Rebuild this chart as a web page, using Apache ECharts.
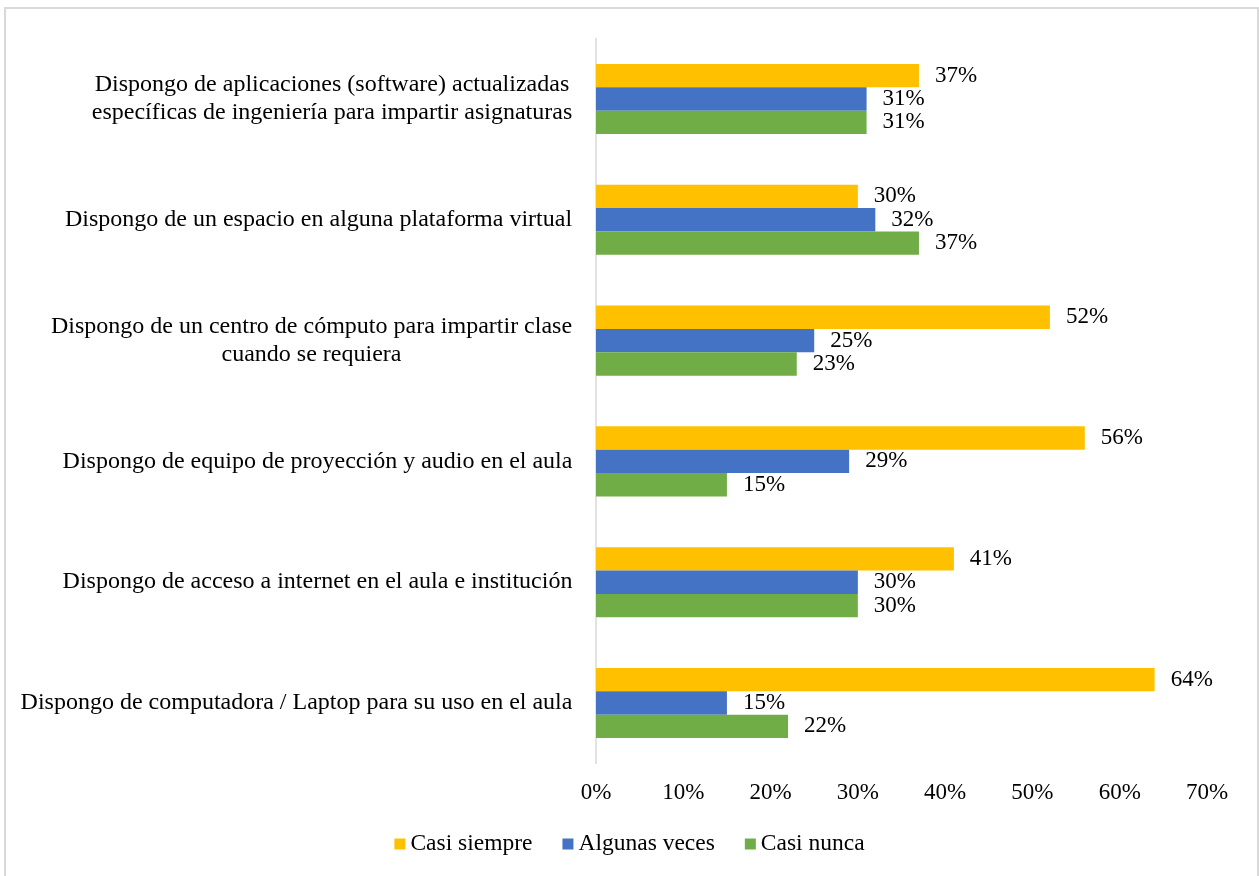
<!DOCTYPE html>
<html>
<head>
<meta charset="utf-8">
<script src="https://cdn.jsdelivr.net/npm/echarts@6/dist/echarts.min.js"></script>
<style>
  html, body { margin: 0; padding: 0; background: #ffffff; }
  #chart { width: 1259px; height: 876px; }
</style>
</head>
<body>
<div id="chart"></div>
<script>
// Survey items, listed top to bottom
const categories = [
  'Dispongo de aplicaciones (software) actualizadas\nespecíficas de ingeniería para impartir asignaturas',
  'Dispongo de un espacio en alguna plataforma virtual',
  'Dispongo de un centro de cómputo para impartir clase\ncuando se requiera',
  'Dispongo de equipo de proyección y audio en el aula',
  'Dispongo de acceso a internet en el aula e institución',
  'Dispongo de computadora / Laptop para su uso en el aula'
];
const seriesNames = ['Casi siempre', 'Algunas veces', 'Casi nunca'];
// Shares per item (fractions of 1)
const casiSiempre  = [0.37, 0.30, 0.52, 0.56, 0.41, 0.64];
const algunasVeces = [0.31, 0.32, 0.25, 0.29, 0.30, 0.15];
const casiNunca    = [0.31, 0.37, 0.23, 0.15, 0.30, 0.22];
const xTicks = { min: 0, max: 0.7, interval: 0.1 };

const FONT = "'Liberation Serif', 'Times New Roman', serif";
const CAT_SIZE = 24;

// Multi-line item labels: lines centred on each other, block right-aligned to the axis
const ctx = document.createElement('canvas').getContext('2d');
ctx.font = CAT_SIZE + 'px ' + FONT;
const rich = {};
categories.forEach((c, i) => {
  const w = Math.max(...c.split('\n').map(l => ctx.measureText(l).width));
  rich['w' + i] = {
    width: Math.ceil(w) + 1, align: 'center',
    fontFamily: FONT, fontSize: CAT_SIZE, color: '#000', lineHeight: 28
  };
});

const pct = v => Math.round(v * 100) + '%';

function barSeries(name, data, color) {
  return {
    name: name,
    type: 'bar',
    data: data,
    barCategoryGap: '42%',
    barGap: '0%',
    itemStyle: { color: color },
    label: {
      show: true,
      position: 'right',
      distance: 16,
      formatter: p => pct(p.value),
      fontFamily: FONT,
      fontSize: 23,
      color: '#000'
    }
  };
}

const chart = echarts.init(document.getElementById('chart'), null, { renderer: 'canvas' });
chart.setOption({
  animation: false,
  backgroundColor: '#ffffff',
  graphic: [{
    type: 'rect',
    shape: { x: 5, y: 8, width: 1253, height: 900 },
    style: { fill: 'none', stroke: '#d9d9d9', lineWidth: 2 },
    silent: true
  }],
  grid: { left: 596, right: 52, top: 38.6, bottom: 112.6, containLabel: false },
  legend: {
    data: seriesNames,
    bottom: 15,
    left: 'center',
    itemWidth: 11,
    itemHeight: 11,
    itemGap: 30,
    icon: 'rect',
    textStyle: { fontFamily: FONT, fontSize: 23.5, color: '#000', padding: [0, 0, 0, 0] }
  },
  xAxis: {
    type: 'value',
    min: xTicks.min,
    max: xTicks.max,
    interval: xTicks.interval,
    axisLine: { show: false },
    axisTick: { show: false },
    splitLine: { show: false },
    axisLabel: {
      margin: 18,
      formatter: v => pct(v),
      fontFamily: FONT,
      fontSize: 23,
      color: '#000'
    }
  },
  yAxis: {
    type: 'category',
    inverse: true,
    data: categories,
    axisLine: { show: true, lineStyle: { color: '#d9d9d9', width: 1.5 } },
    axisTick: { show: false },
    axisLabel: {
      margin: 23,
      align: 'right',
      formatter: (v, i) => v.split('\n').map(l => '{w' + i + '|' + l + '}').join('\n'),
      rich: rich
    }
  },
  series: [
    barSeries(seriesNames[0], casiSiempre, '#FFC000'),
    barSeries(seriesNames[1], algunasVeces, '#4472C4'),
    barSeries(seriesNames[2], casiNunca, '#70AD47')
  ]
});
</script>
</body>
</html>
